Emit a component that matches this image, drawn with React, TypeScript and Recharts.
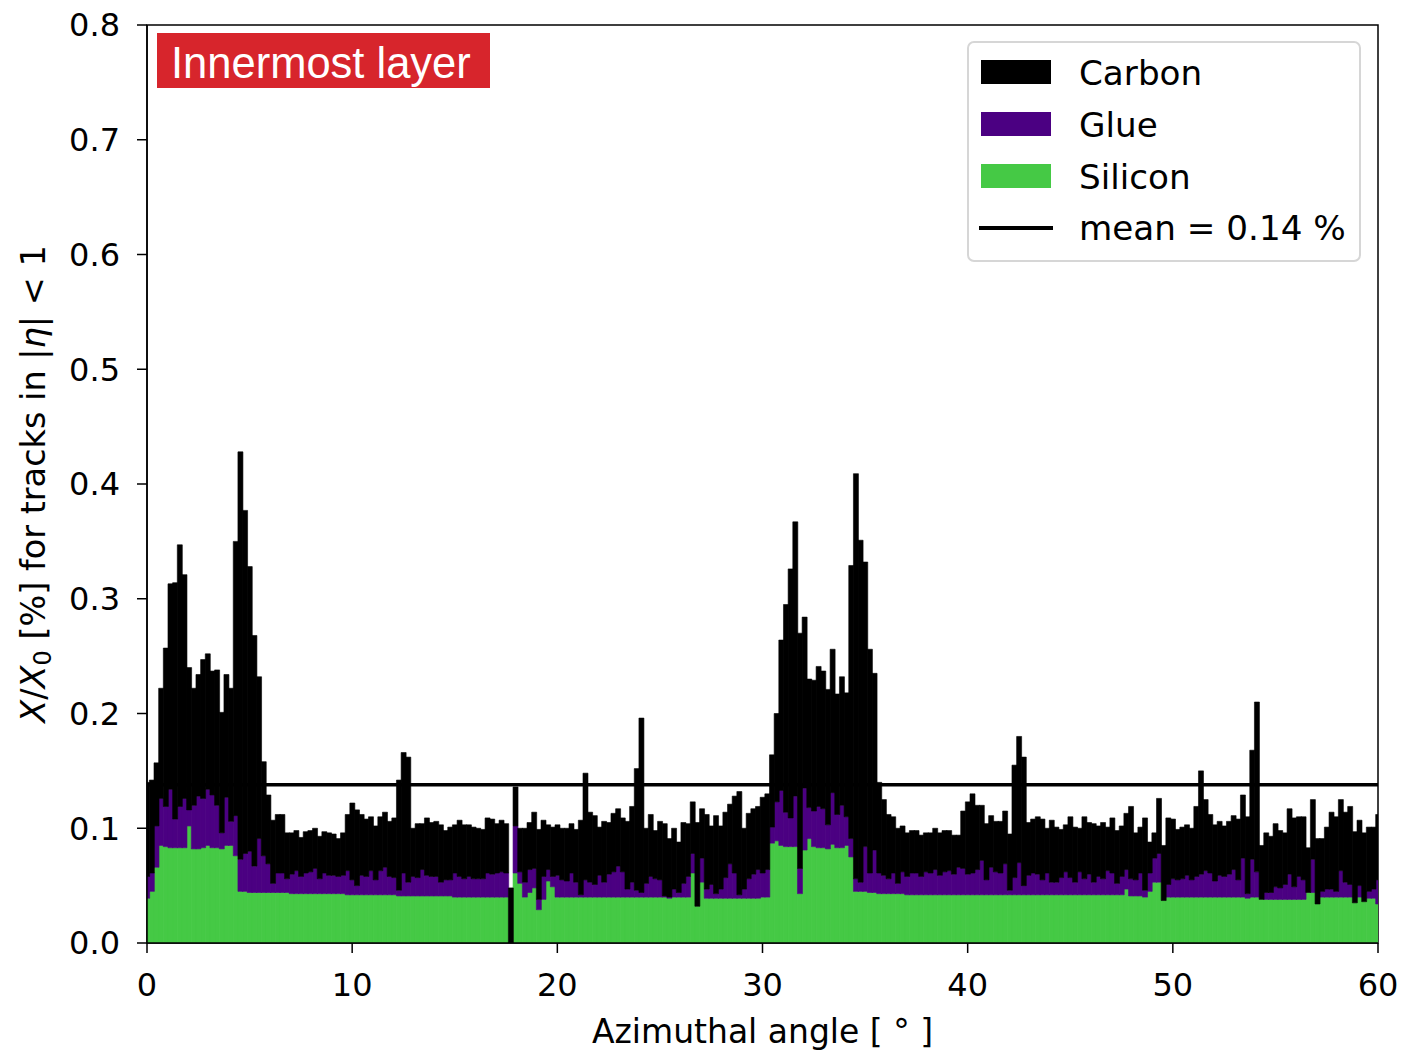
import { ComposedChart, Bar, XAxis, YAxis, ReferenceLine, ReferenceArea } from 'recharts'

const FONT = '"DejaVu Sans", sans-serif'
const N_BINS = 264
const X_MAX = 60
const MEAN = 0.138

const CARBON_COLOR = '#000000'
const GLUE_COLOR = '#4b0082'
const SILICON_COLOR = '#45c945'

// top edge of the whole stack (carbon on top), one value per bin
const totalTop = [
  0.140, 0.142, 0.157, 0.222, 0.257, 0.313, 0.314, 0.347, 0.321, 0.240,
  0.222, 0.234, 0.247, 0.252, 0.237, 0.238, 0.201, 0.234, 0.222, 0.350,
  0.428, 0.377, 0.328, 0.268, 0.232, 0.158, 0.129, 0.107, 0.112, 0.112,
  0.096, 0.096, 0.098, 0.092, 0.097, 0.098, 0.100, 0.093, 0.097, 0.096,
  0.095, 0.091, 0.096, 0.112, 0.122, 0.116, 0.112, 0.108, 0.110, 0.102,
  0.110, 0.114, 0.106, 0.109, 0.142, 0.166, 0.162, 0.100, 0.104, 0.104,
  0.109, 0.105, 0.106, 0.103, 0.098, 0.101, 0.103, 0.107, 0.103, 0.103,
  0.101, 0.100, 0.099, 0.109, 0.108, 0.104, 0.107, 0.104, 0.048, 0.136,
  0.100, 0.100, 0.105, 0.114, 0.099, 0.107, 0.103, 0.101, 0.103, 0.100,
  0.100, 0.104, 0.099, 0.107, 0.148, 0.114, 0.111, 0.101, 0.106, 0.105,
  0.113, 0.117, 0.109, 0.106, 0.119, 0.152, 0.196, 0.100, 0.112, 0.098,
  0.106, 0.104, 0.091, 0.100, 0.088, 0.105, 0.104, 0.123, 0.105, 0.117,
  0.112, 0.102, 0.111, 0.102, 0.114, 0.121, 0.128, 0.132, 0.100, 0.113,
  0.117, 0.119, 0.127, 0.130, 0.164, 0.200, 0.264, 0.295, 0.326, 0.367,
  0.270, 0.284, 0.230, 0.229, 0.241, 0.237, 0.221, 0.256, 0.217, 0.232,
  0.218, 0.329, 0.409, 0.351, 0.332, 0.256, 0.235, 0.140, 0.125, 0.112,
  0.110, 0.100, 0.102, 0.096, 0.098, 0.098, 0.094, 0.096, 0.096, 0.100,
  0.096, 0.098, 0.098, 0.094, 0.094, 0.115, 0.123, 0.130, 0.120, 0.120,
  0.104, 0.111, 0.106, 0.106, 0.115, 0.095, 0.155, 0.180, 0.162, 0.105,
  0.108, 0.110, 0.108, 0.100, 0.107, 0.101, 0.099, 0.103, 0.110, 0.101,
  0.100, 0.110, 0.105, 0.104, 0.102, 0.105, 0.101, 0.109, 0.098, 0.102,
  0.113, 0.119, 0.096, 0.101, 0.109, 0.088, 0.096, 0.126, 0.085, 0.109,
  0.108, 0.099, 0.101, 0.103, 0.100, 0.119, 0.150, 0.125, 0.112, 0.103,
  0.106, 0.102, 0.106, 0.111, 0.108, 0.129, 0.110, 0.168, 0.210, 0.085,
  0.096, 0.093, 0.104, 0.098, 0.096, 0.117, 0.109, 0.110, 0.110, 0.083,
  0.125, 0.091, 0.091, 0.101, 0.114, 0.110, 0.125, 0.114, 0.119, 0.097,
  0.107, 0.096, 0.101, 0.101, 0.112,
]

// top edge of the glue layer
const glueTop = [
  0.058, 0.061, 0.102, 0.126, 0.119, 0.134, 0.108, 0.119, 0.126, 0.116,
  0.120, 0.128, 0.126, 0.134, 0.129, 0.120, 0.096, 0.127, 0.106, 0.111,
  0.073, 0.078, 0.080, 0.067, 0.091, 0.076, 0.069, 0.052, 0.061, 0.061,
  0.056, 0.060, 0.063, 0.058, 0.061, 0.062, 0.065, 0.056, 0.061, 0.059,
  0.059, 0.058, 0.059, 0.063, 0.055, 0.050, 0.059, 0.058, 0.063, 0.055,
  0.063, 0.066, 0.058, 0.057, 0.046, 0.061, 0.053, 0.058, 0.057, 0.064,
  0.059, 0.058, 0.058, 0.053, 0.055, 0.055, 0.061, 0.058, 0.056, 0.058,
  0.056, 0.056, 0.056, 0.061, 0.060, 0.061, 0.062, 0.061, 0.000, 0.102,
  0.062, 0.053, 0.064, 0.065, 0.038, 0.058, 0.064, 0.058, 0.059, 0.055,
  0.054, 0.061, 0.053, 0.042, 0.055, 0.053, 0.051, 0.059, 0.053, 0.060,
  0.062, 0.067, 0.062, 0.047, 0.053, 0.046, 0.044, 0.052, 0.058, 0.056,
  0.055, 0.041, 0.040, 0.047, 0.044, 0.052, 0.058, 0.078, 0.032, 0.074,
  0.047, 0.051, 0.043, 0.047, 0.057, 0.069, 0.061, 0.042, 0.047, 0.056,
  0.060, 0.064, 0.061, 0.064, 0.101, 0.123, 0.133, 0.114, 0.109, 0.128,
  0.065, 0.135, 0.118, 0.115, 0.119, 0.117, 0.103, 0.131, 0.112, 0.120,
  0.110, 0.091, 0.056, 0.053, 0.084, 0.061, 0.081, 0.061, 0.059, 0.056,
  0.061, 0.052, 0.062, 0.058, 0.061, 0.061, 0.058, 0.062, 0.061, 0.064,
  0.059, 0.062, 0.063, 0.060, 0.066, 0.065, 0.060, 0.061, 0.064, 0.072,
  0.055, 0.066, 0.062, 0.061, 0.069, 0.046, 0.057, 0.070, 0.050, 0.059,
  0.061, 0.060, 0.055, 0.061, 0.053, 0.053, 0.057, 0.062, 0.057, 0.053,
  0.062, 0.056, 0.060, 0.053, 0.058, 0.056, 0.063, 0.061, 0.052, 0.058,
  0.064, 0.056, 0.055, 0.061, 0.046, 0.061, 0.074, 0.078, 0.037, 0.051,
  0.056, 0.055, 0.056, 0.059, 0.055, 0.058, 0.060, 0.063, 0.061, 0.054,
  0.059, 0.058, 0.060, 0.064, 0.055, 0.074, 0.043, 0.073, 0.062, 0.038,
  0.044, 0.044, 0.049, 0.048, 0.051, 0.060, 0.049, 0.058, 0.055, 0.044,
  0.073, 0.034, 0.045, 0.047, 0.047, 0.045, 0.063, 0.053, 0.051, 0.035,
  0.050, 0.036, 0.045, 0.047, 0.055,
]

// top edge of the silicon layer (bottom of the stack)
const siliconTop = [
  0.039, 0.045, 0.066, 0.085, 0.084, 0.083, 0.083, 0.083, 0.083, 0.102,
  0.082, 0.082, 0.083, 0.085, 0.083, 0.083, 0.082, 0.085, 0.085, 0.076,
  0.045, 0.045, 0.044, 0.044, 0.044, 0.044, 0.044, 0.044, 0.044, 0.044,
  0.044, 0.043, 0.043, 0.043, 0.043, 0.043, 0.043, 0.043, 0.043, 0.043,
  0.043, 0.043, 0.043, 0.042, 0.042, 0.042, 0.042, 0.042, 0.042, 0.042,
  0.042, 0.042, 0.042, 0.042, 0.041, 0.041, 0.041, 0.041, 0.041, 0.041,
  0.041, 0.041, 0.041, 0.041, 0.041, 0.041, 0.040, 0.040, 0.040, 0.040,
  0.040, 0.040, 0.040, 0.040, 0.040, 0.040, 0.040, 0.040, 0.000, 0.061,
  0.052, 0.040, 0.044, 0.048, 0.029, 0.038, 0.054, 0.049, 0.040, 0.040,
  0.040, 0.040, 0.040, 0.040, 0.040, 0.040, 0.040, 0.040, 0.040, 0.040,
  0.040, 0.040, 0.040, 0.040, 0.040, 0.040, 0.040, 0.040, 0.040, 0.040,
  0.040, 0.040, 0.039, 0.040, 0.040, 0.040, 0.040, 0.061, 0.032, 0.053,
  0.039, 0.039, 0.039, 0.039, 0.039, 0.039, 0.039, 0.039, 0.039, 0.039,
  0.039, 0.039, 0.040, 0.040, 0.087, 0.089, 0.085, 0.084, 0.084, 0.084,
  0.043, 0.081, 0.091, 0.084, 0.083, 0.083, 0.082, 0.086, 0.083, 0.083,
  0.085, 0.075, 0.045, 0.045, 0.045, 0.044, 0.044, 0.043, 0.043, 0.043,
  0.043, 0.043, 0.043, 0.042, 0.042, 0.042, 0.042, 0.042, 0.042, 0.042,
  0.042, 0.042, 0.042, 0.042, 0.042, 0.042, 0.042, 0.042, 0.042, 0.042,
  0.042, 0.042, 0.042, 0.042, 0.042, 0.042, 0.042, 0.042, 0.042, 0.042,
  0.042, 0.042, 0.042, 0.042, 0.042, 0.042, 0.042, 0.042, 0.042, 0.042,
  0.042, 0.042, 0.042, 0.042, 0.042, 0.042, 0.042, 0.042, 0.042, 0.042,
  0.047, 0.041, 0.041, 0.041, 0.040, 0.045, 0.053, 0.053, 0.037, 0.040,
  0.040, 0.040, 0.040, 0.040, 0.040, 0.040, 0.040, 0.040, 0.040, 0.040,
  0.040, 0.040, 0.040, 0.040, 0.040, 0.040, 0.039, 0.040, 0.040, 0.038,
  0.038, 0.038, 0.038, 0.038, 0.038, 0.038, 0.038, 0.038, 0.038, 0.044,
  0.044, 0.034, 0.040, 0.040, 0.040, 0.040, 0.040, 0.040, 0.040, 0.035,
  0.040, 0.036, 0.039, 0.039, 0.034,
]

const xTicks = [0, 10, 20, 30, 40, 50, 60]
const yTicks = [0, 0.1, 0.2, 0.3, 0.4, 0.5, 0.6, 0.7, 0.8]

// bins are centred on multiples of 60/264 degrees
const data = totalTop.map((t, i) => ({
  x: (i * X_MAX) / N_BINS,
  silicon: siliconTop[i],
  glue: glueTop[i] - siliconTop[i],
  carbon: t - glueTop[i],
}))

const legendItems = [
  { label: 'Carbon', color: CARBON_COLOR },
  { label: 'Glue', color: GLUE_COLOR },
  { label: 'Silicon', color: SILICON_COLOR },
]

function YLabel(props: any) {
  const vb = props.viewBox
  const cy = vb.y + vb.height / 2
  return (
    <text x={45} y={cy} transform={`rotate(-90 45 ${cy})`} textAnchor="middle" fontSize={33.5} fontFamily={FONT} fill="#000">
      <tspan fontStyle="italic">X</tspan>/<tspan fontStyle="italic">X</tspan>
      <tspan fontSize={24} dy={6}>0</tspan>
      <tspan dy={-6}> [%] for tracks in |</tspan>
      <tspan fontStyle="italic">η</tspan>| &lt; 1
    </text>
  )
}

function XLabel(props: any) {
  const vb = props.viewBox
  return (
    <text x={vb.x + vb.width / 2} y={1043} textAnchor="middle" fontSize={33} fontFamily={FONT} fill="#000">
      Azimuthal angle [ ° ]
    </text>
  )
}

function LegendBox() {
  return (
    <svg width={394} height={221} style={{ position: 'absolute', left: 967, top: 41 }}>
      <rect x={1} y={1} width={392} height={219} rx={6} fill="rgba(255,255,255,0.8)" stroke="#d6d6d6" strokeWidth={2} />
      {legendItems.map((it, i) => (
        <g key={it.label}>
          <rect x={14} y={19 + i * 52} width={70} height={24} fill={it.color} />
          <text x={112} y={44 + i * 52} fontSize={34.2} fontFamily={FONT} fill="#000">{it.label}</text>
        </g>
      ))}
      <line x1={12} x2={86} y1={187} y2={187} stroke="#000" strokeWidth={4} />
      <text x={112} y={199} fontSize={34.2} fontFamily={FONT} fill="#000">mean = 0.14 %</text>
    </svg>
  )
}

export default function App() {
  return (
    <div style={{ position: 'absolute', left: 0, top: 0, width: 1402, height: 1050, background: '#fff', overflow: 'hidden' }}>
      <ComposedChart
        width={1402}
        height={1050}
        data={data}
        margin={{ top: 25, right: 24, bottom: 0, left: 0 }}
        barCategoryGap={0}
        barGap={0}
      >
        <XAxis
          dataKey="x"
          type="number"
          domain={[0, X_MAX]}
          ticks={xTicks}
          interval={0}
          allowDataOverflow
          height={107}
          tickSize={10}
          tickMargin={20}
          stroke="#000"
          strokeWidth={1.5}
          tick={{ fill: '#000', fontSize: 32, fontFamily: FONT }}
          label={XLabel}
        />
        <YAxis
          type="number"
          domain={[0, 0.8]}
          ticks={yTicks}
          interval={0}
          allowDataOverflow
          width={147}
          tickSize={10}
          tickMargin={17}
          stroke="#000"
          strokeWidth={1.5}
          tickFormatter={(v: number) => v.toFixed(1)}
          tick={{ fill: '#000', fontSize: 32, fontFamily: FONT }}
          label={YLabel}
        />
        <Bar dataKey="silicon" stackId="m" fill={SILICON_COLOR} stroke={SILICON_COLOR} strokeWidth={0.6} isAnimationActive={false} />
        <Bar dataKey="glue" stackId="m" fill={GLUE_COLOR} stroke={GLUE_COLOR} strokeWidth={0.6} isAnimationActive={false} />
        <Bar dataKey="carbon" stackId="m" fill={CARBON_COLOR} stroke={CARBON_COLOR} strokeWidth={0.6} isAnimationActive={false} />
        <ReferenceLine y={MEAN} stroke="#000" strokeWidth={3.5} />
        <ReferenceArea x1={0} x2={X_MAX} y1={0} y2={0.8} fill="none" stroke="#000" strokeWidth={1.5} />
      </ComposedChart>
      <div
        style={{
          position: 'absolute', left: 157, top: 33, width: 333, height: 55, background: '#d7252c',
          color: '#fff', fontFamily: '"Liberation Sans", Arial, sans-serif', fontSize: 43.5, lineHeight: '61px',
          paddingLeft: 14, boxSizing: 'border-box', whiteSpace: 'nowrap',
        }}
      >
        Innermost layer
      </div>
      <LegendBox />
    </div>
  )
}
